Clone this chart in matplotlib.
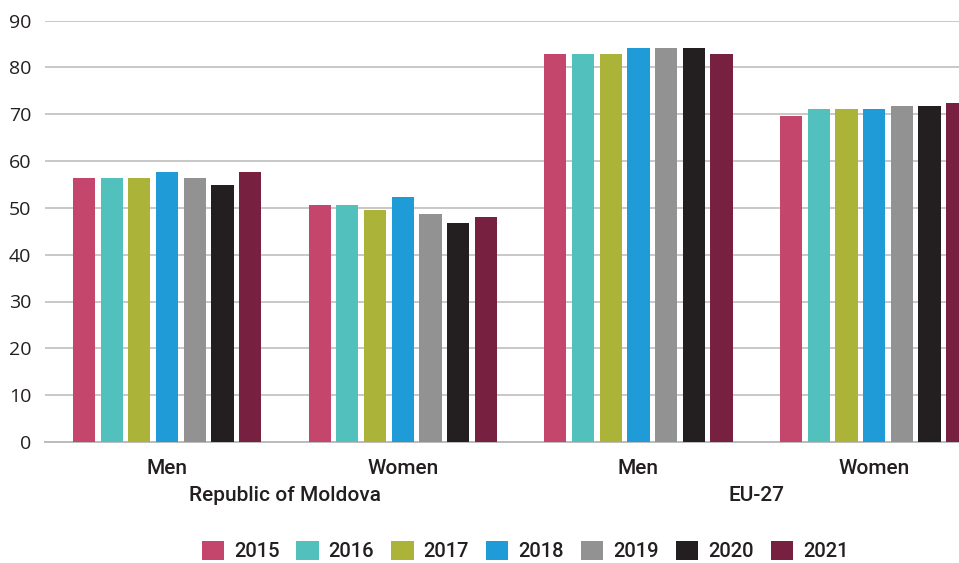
import matplotlib.pyplot as plt
import matplotlib.transforms as mtransforms
import numpy as np

years = ["2015", "2016", "2017", "2018", "2019", "2020", "2021"]
groups = ["Men", "Women", "Men", "Women"]
regions = ["Republic of Moldova", "EU-27"]

moldova_men = [56.4, 56.4, 56.4, 57.7, 56.4, 54.9, 57.7]
moldova_women = [50.6, 50.6, 49.6, 52.4, 48.7, 46.8, 48.1]
eu_men = [82.9, 82.9, 82.9, 84.2, 84.2, 84.2, 82.9]
eu_women = [69.7, 71.2, 71.2, 71.2, 71.8, 71.8, 72.4]

colors = ["#C5466C", "#52C1BE", "#ABB439", "#1F9BD8", "#929292", "#231F20", "#78203F"]

values = np.array([moldova_men, moldova_women, eu_men, eu_women])

label_font = {"family": ["Roboto", "DejaVu Sans"], "weight": "medium", "stretch": "condensed"}

fig = plt.figure(figsize=(9.59, 5.63), dpi=100)
ax = fig.add_axes([45 / 959, 121 / 563, 914 / 959, 421.5 / 563])

x = np.arange(len(groups))
step = 0.1175
width = 0.094
for i, year in enumerate(years):
    ax.bar(x + (i - 3) * step, values[:, i], width, color=colors[i], label=year, zorder=3)

ax.set_ylim(0, 90)
ax.set_xlim(-0.518, 3.36)
ax.set_yticks(range(0, 91, 10))
ax.yaxis.grid(True, color="#c8c8c8", linewidth=1.4, zorder=0)
for s in ["top", "right", "left"]:
    ax.spines[s].set_visible(False)
ax.spines["bottom"].set_color("#bbbbbb")
ax.spines["bottom"].set_linewidth(1.4)
ax.tick_params(axis="y", length=0, pad=10, labelsize=14, labelcolor="#231F20")
ax.tick_params(axis="x", length=0, pad=12)
for lab in ax.get_yticklabels():
    lab.set_family("Open Sans")

ax.set_xticks(x)
ax.set_xticklabels(groups, fontsize=15, color="#231F20", **label_font)

trans = mtransforms.blended_transform_factory(ax.transData, ax.transAxes)
for j, region in enumerate(regions):
    ax.text(2 * j + 0.5, -0.128, region, transform=trans, ha="center", va="center",
            fontsize=15, color="#231F20", **label_font)

fig.legend(loc="center", bbox_to_anchor=(525 / 959, 1 - 551 / 563), ncol=7,
           frameon=False, handlelength=1.1, handleheight=1.1, handletextpad=0.5,
           columnspacing=0.85, prop={"size": 14.5, **label_font},
           labelcolor="#231F20")

fig.savefig("out.png", dpi=100)
